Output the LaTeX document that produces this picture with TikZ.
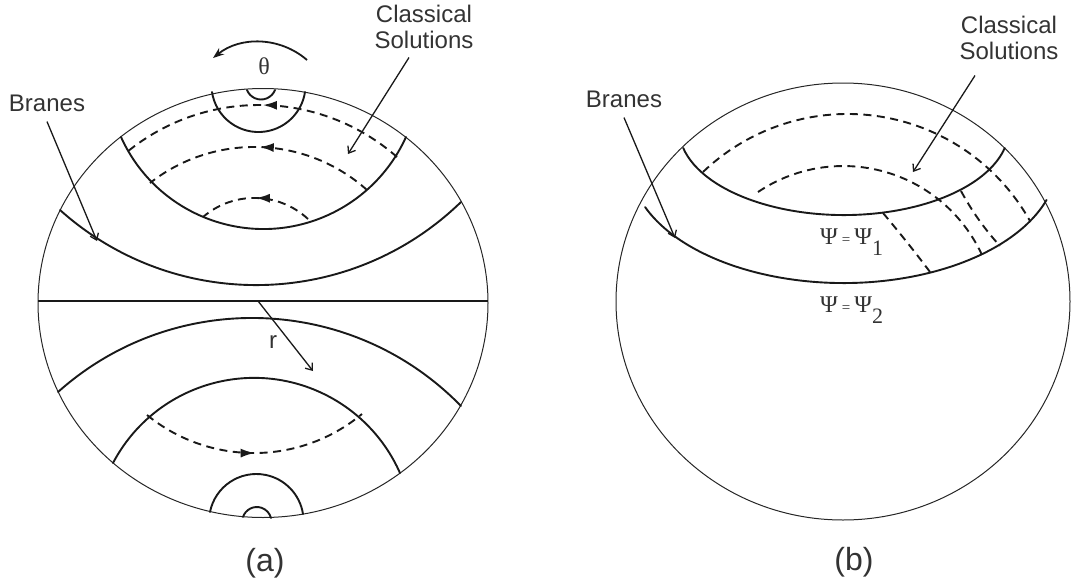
\documentclass[tikz,border=0pt]{standalone}
\usepackage{fontspec}
\setmainfont{Liberation Sans}
\newfontfamily\grserif{Liberation Serif}
\usetikzlibrary{arrows.meta,decorations.markings}

% arc through three points (x1,y1) (x2,y2) (x3,y3), pixel frame
\newcommand\tarc[7][]{%
  \edef\taD{\fpeval{2*((#2)*((#5)-(#7))+(#4)*((#7)-(#3))+(#6)*((#3)-(#5)))}}%
  \edef\taA{\fpeval{(#2)^2+(#3)^2}}%
  \edef\taB{\fpeval{(#4)^2+(#5)^2}}%
  \edef\taC{\fpeval{(#6)^2+(#7)^2}}%
  \edef\taX{\fpeval{round((\taA*((#5)-(#7))+\taB*((#7)-(#3))+\taC*((#3)-(#5)))/(\taD),4)}}%
  \edef\taY{\fpeval{round((\taA*((#6)-(#4))+\taB*((#2)-(#6))+\taC*((#4)-(#2)))/(\taD),4)}}%
  \edef\taR{\fpeval{round(sqrt(((#2)-(\taX))^2+((#3)-(\taY))^2),4)}}%
  \edef\taS{\fpeval{round(atand((#3)-(\taY),(#2)-(\taX)),4)}}%
  \edef\taE{\fpeval{round(atand((#7)-(\taY),(#6)-(\taX)),4)}}%
  \draw[#1] (#2,#3) arc[start angle=\taS, end angle=\taE, radius=\taR];%
}

\begin{document}
\begin{tikzpicture}[x=1pt,y=-1pt,
  rim/.style={line width=1pt, black!85},
  brane/.style={line width=1.9pt, black!90, line cap=round},
  axisline/.style={line width=2.3pt, black!90},
  soln/.style={line width=1.9pt, black!90, dash pattern=on 8pt off 5.5pt},
  midtip/.style={postaction={decorate}, decoration={markings,
      mark=at position 0.5 with {\arrow{Latex[length=14pt,width=9pt]}}}},
  lbl/.style={font=\fontsize{24}{26}\selectfont, text=black!80, inner sep=2pt, align=center},
  sublabel/.style={font=\fontsize{32}{34}\selectfont, text=black!80, inner sep=0pt},
  greek/.style={font=\grserif\fontsize{24}{26}\selectfont, text=black!80, inner sep=0pt},
  lblarrow/.style={line width=1.3pt, black!90, -{Straight Barb[length=6pt,width=9pt]}},
  thetaarrow/.style={line width=1.8pt, black!90, -{Stealth[length=11pt,width=8pt]}}
]
\useasboundingbox (0,0) rectangle (1071,584);

% ---------------- (a) ----------------
\draw[rim] (263,303) ellipse[x radius=225, y radius=214.5];
\draw[axisline] (38,301) -- (488,301);

% upper half
\tarc[brane]{60}{210}{263}{285}{461}{202}
\tarc[brane]{121}{137}{263}{229}{406}{137}
\tarc[brane]{212}{92}{260}{132}{305}{92}
\tarc[brane]{247}{90}{261}{99.5}{275}{90}
\tarc[soln,midtip]{397}{157}{258}{105}{127}{152}
\tarc[soln,midtip]{367}{190}{257}{147}{150}{183}
\tarc[soln,midtip]{308}{219}{257}{198}{203}{217}
\tarc[thetaarrow]{307}{60}{260}{42}{213}{58}

% lower half
\tarc[brane]{58}{392}{257}{318}{461}{406}
\tarc[brane]{113}{463}{248}{378}{400}{473}
\tarc[soln,midtip]{147}{415}{257}{453}{362}{414}
\tarc[brane]{210}{512}{257}{474}{303}{514}
\tarc[brane]{243}{517}{257}{507}{271}{518}

% labels (a)
\node[greek] (theta) at (264,66) {θ};
\node[lbl] (brA) at (47,103) {Branes};
\node[lbl] (csA) at (424,26.5) {Classical\\Solutions};
\coordinate (brAtip) at (97,241);
\coordinate (csAtip) at (348,154);
\draw[lblarrow] ([yshift=-8pt]brA.south) -- (brAtip);
\draw[lblarrow] ([xshift=-15pt,yshift=-7pt]csA.south) -- (csAtip);
\coordinate (rS) at (258,301);
\coordinate (rE) at (313,371);
\draw[lblarrow] (rS) -- (rE);
\node[lbl] (rlab) at (273,342) {r};
\node[sublabel] (capA) at (265,563) {(a)};

% ---------------- (b) ----------------
\draw[rim] (843,301.5) ellipse[x radius=227, y radius=218.5];
\draw[brane] (683.2,148) arc[start angle=167, end angle=13, x radius=165, y radius=86.5];
\draw[brane] (645.1,207.1) arc[start angle=158, end angle=18.4, x radius=214, y radius=121.4];

\tarc[soln]{703}{172}{850}{114}{1030}{221}
\tarc[soln]{758}{192}{938}{199}{982}{255}
\tarc[soln]{883}{213}{906}{241}{930}{272}
\tarc[soln]{961}{191}{979}{220}{1000}{246}

% labels (b)
\node[lbl] (brB) at (624,99) {Branes};
\node[lbl] (csB) at (1009,37.5) {Classical\\Solutions};
\coordinate (brBtip) at (675,238);
\coordinate (csBtip) at (913,172);
\draw[lblarrow] ([yshift=-8pt]brB.south) -- (brBtip);
\draw[lblarrow] ([xshift=-34pt,yshift=-14pt]csB.south) -- (csBtip);
\node[greek, anchor=base west] (psiA) at (820,244) {Ψ\,{\fontsize{15}{15}\selectfont=}\,Ψ\raisebox{-11pt}{\fontsize{22}{22}\selectfont 1}};
\node[greek, anchor=base west] (psiB) at (820,312) {Ψ\,{\fontsize{15}{15}\selectfont=}\,Ψ\raisebox{-11pt}{\fontsize{22}{22}\selectfont 2}};
\node[sublabel] (capB) at (854,562) {(b)};
\end{tikzpicture}
\end{document}
